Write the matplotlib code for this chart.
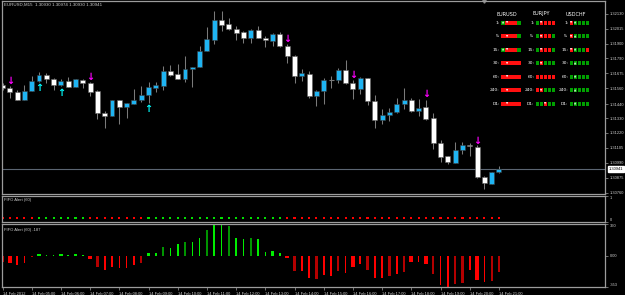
"""
EURUSD M15 chart with FIFO Alert sub-windows and multi-timeframe panel
"""

#---------------------------------------------------------------------------------------------------
# Import Modules
#---------------------------------------------------------------------------------------------------

import matplotlib
matplotlib.use('Agg')
import matplotlib.pyplot as plt
import matplotlib.transforms as mtrans
import numpy as np


#---------------------------------------------------------------------------------------------------
# Input Data
#---------------------------------------------------------------------------------------------------

# 15-minute candles, 14 Feb 2012 04:00 - 21:00
opens = [1.31584, 1.31561, 1.31533, 1.31475, 1.31543, 1.31615, 1.31661, 1.31630, 1.31587, 1.31615,
         1.31571, 1.31628, 1.31602, 1.31538, 1.31375, 1.31352, 1.31472, 1.31418, 1.31444, 1.31472,
         1.31510, 1.31566, 1.31579, 1.31697, 1.31671, 1.31635, 1.31707, 1.31725, 1.31847, 1.31934,
         1.32087, 1.32054, 1.32015, 1.31992, 1.31944, 1.32008, 1.31949, 1.31926, 1.31977, 1.31888,
         1.31809, 1.31656, 1.31674, 1.31505, 1.31538, 1.31623, 1.31623, 1.31704, 1.31605, 1.31559,
         1.31640, 1.31464, 1.31316, 1.31360, 1.31380, 1.31442, 1.31475, 1.31388, 1.31418, 1.31332,
         1.31145, 1.31041, 1.30992, 1.31089, 1.31125, 1.31115, 1.30885, 1.30829, 1.30918]
highs = [1.31605, 1.31579, 1.31551, 1.31587, 1.31656, 1.31686, 1.31679, 1.31638, 1.31633, 1.31645,
         1.31633, 1.31635, 1.31612, 1.31548, 1.31388, 1.31475, 1.31475, 1.31452, 1.31556, 1.31579,
         1.31607, 1.31607, 1.31732, 1.31740, 1.31748, 1.31809, 1.31727, 1.31885, 1.32028, 1.32153,
         1.32153, 1.32099, 1.32038, 1.32000, 1.32015, 1.32041, 1.31964, 1.31985, 1.31990, 1.31898,
         1.31816, 1.31707, 1.31694, 1.31548, 1.31640, 1.31656, 1.31714, 1.31781, 1.31628, 1.31645,
         1.31643, 1.31510, 1.31401, 1.31411, 1.31487, 1.31566, 1.31490, 1.31480, 1.31472, 1.31375,
         1.31168, 1.31046, 1.31153, 1.31151, 1.31140, 1.31128, 1.30893, 1.30924, 1.30964]
lows = [1.31546, 1.31490, 1.31469, 1.31472, 1.31541, 1.31607, 1.31600, 1.31551, 1.31579, 1.31569,
        1.31569, 1.31564, 1.31505, 1.31329, 1.31260, 1.31349, 1.31286, 1.31337, 1.31442, 1.31459,
        1.31452, 1.31531, 1.31551, 1.31656, 1.31633, 1.31610, 1.31571, 1.31722, 1.31844, 1.31903,
        1.32003, 1.32005, 1.31934, 1.31908, 1.31911, 1.31944, 1.31880, 1.31888, 1.31878, 1.31755,
        1.31605, 1.31617, 1.31487, 1.31429, 1.31444, 1.31561, 1.31602, 1.31597, 1.31482, 1.31515,
        1.31431, 1.31258, 1.31286, 1.31314, 1.31375, 1.31406, 1.31380, 1.31352, 1.31319, 1.31094,
        1.31000, 1.30979, 1.30990, 1.31059, 1.31046, 1.30872, 1.30788, 1.30827, 1.30911]
closes = [1.31561, 1.31533, 1.31475, 1.31541, 1.31617, 1.31661, 1.31633, 1.31587, 1.31617, 1.31574,
          1.31630, 1.31602, 1.31533, 1.31372, 1.31352, 1.31472, 1.31418, 1.31449, 1.31472, 1.31513,
          1.31569, 1.31584, 1.31694, 1.31663, 1.31635, 1.31709, 1.31727, 1.31850, 1.31936, 1.32087,
          1.32048, 1.32015, 1.31985, 1.31944, 1.32008, 1.31946, 1.31929, 1.31977, 1.31888, 1.31811,
          1.31658, 1.31679, 1.31505, 1.31538, 1.31628, 1.31623, 1.31704, 1.31602, 1.31559, 1.31638,
          1.31467, 1.31316, 1.31360, 1.31383, 1.31444, 1.31475, 1.31388, 1.31411, 1.31329, 1.31145,
          1.31038, 1.30995, 1.31092, 1.31128, 1.31118, 1.30883, 1.30834, 1.30918, 1.30941]

# Signal arrows (bar index, price)
sell_idx = [1, 12, 39, 48, 58, 65]
sell_price = [1.31620, 1.31648, 1.31939, 1.31666, 1.31518, 1.31158]
buy_idx = [5, 8, 20]
buy_price = [1.31566, 1.31528, 1.31403]

# Price axis labels
price_ticks = [1.32130, 1.32015, 1.31900, 1.31790, 1.31675, 1.31560, 1.31440,
               1.31330, 1.31220, 1.31105, 1.30990, 1.30875, 1.30760]
price_range = [1.30752, 1.32229]

# FIFO Alert (60) dot window: 1 = green, 0 = red
dot_state = [0, 0, 0, 0, 0, 1, 1, 1, 1, 1, 1, 1, 0, 0, 0, 0, 0, 0, 0, 0,
             1, 1, 1, 1, 1, 1, 1, 1, 1, 1, 1, 1, 1, 1, 1, 1, 1, 1, 1, 0,
             0, 0, 0, 0, 0, 0, 0, 0, 0, 0, 0, 0, 0, 0, 0, 0, 0, 0, 0, 0,
             0, 0, 0, 0, 0, 0, 0, 0, 0]
dot_level = 0.15

# FIFO Alert (60) histogram
hist_vals = [-66, -86, -107, -78, -16, 16, 12, 8, 16, 12,
             16, 12, -41, -127, -156, -127, -139, -135, -103, -86,
             29, 37, 98, 90, 131, 160, 156, 205, 291, 360,
             353, 340, 201, 189, 201, 189, 45, 53, 33, -29,
             -176, -176, -250, -258, -217, -225, -176, -189, -127, -98,
             -160, -250, -250, -230, -201, -180, -66, -66, -94, -201,
             -332, -353, -324, -312, -160, -275, -299, -283, -187]
# buffer of each bar: b = bright, d = dark, w = wide
hist_kind = list('dwbbdwbbwb' 'wbwdbbbbbd' 'wbdbbdbbdb' 'bdbbdbbwbw'
                 'dbbdbbdbwb' 'dbbdbdwbwd' 'bbddbwbdd')
hist_range = [-353, 360]

# Time axis
time_labels = ['14 Feb 2012', '14 Feb 05:00', '14 Feb 06:00', '14 Feb 07:00', '14 Feb 08:00',
               '14 Feb 09:00', '14 Feb 10:00', '14 Feb 11:00', '14 Feb 12:00', '14 Feb 13:00',
               '14 Feb 14:00', '14 Feb 15:00', '14 Feb 16:00', '14 Feb 17:00', '14 Feb 18:00',
               '14 Feb 19:00', '14 Feb 20:00', '14 Feb 21:00']

# Multi-timeframe panel: cell colours (G/R) and marks (A = up, V = down, . = none)
pairs = ['EURUSD', 'EURJPY', 'USDCHF']
timeframes = ['1:', '5:', '15:', '30:', '60:', '240:', 'D1:']
cell_colors = {'EURUSD': ['GRRRG', 'RRRRG', 'GRRRG', 'RRRRR', 'RRRRR', 'RRRRR', 'RRRRR'],
               'EURJPY': ['GRRRR', 'GRRRG', 'GRRRG', 'GRGGG', 'RRRRR', 'RRGGG', 'GGRGG'],
               'USDCHF': ['RGGGG', 'RGGGG', 'RGGGR', 'GGGGG', 'GGGGG', 'GGGGG', 'GGGGG']}
cell_marks = {'EURUSD': ['AV...', '.V...', 'AV...', '.V...', '.V...', '.V...', '.V...'],
              'EURJPY': ['.V...', '.V...', '.V...', '.V...', '.....', '.V...', '..V..'],
              'USDCHF': ['VA...', 'VA...', 'VA...', '.A...', '.A...', '.A...', '.A...']}

title_str = 'EURUSD,M15  1.30930 1.30974 1.30930 1.30941'


#---------------------------------------------------------------------------------------------------
# Make Plot
#---------------------------------------------------------------------------------------------------

W, H = 625, 295
BLUE = '#1fb4f2'
WICK = '#7a7a7a'
FRAME = '#9c9c9c'
TXT = '#cfcfcf'
plt.rcParams['font.family'] = ['Liberation Sans', 'DejaVu Sans']

fig = plt.figure(figsize=(W / 100, H / 100), dpi=100, facecolor='black')

def px_axes(x0, y0, x1, y1):
    return fig.add_axes([x0 / W, 1 - y1 / H, (x1 - x0) / W, (y1 - y0) / H])

ax = px_axes(2, 1, 605, 194)
ax1 = px_axes(2, 196, 605, 222)
ax2 = px_axes(2, 224, 605, 287)

n = len(opens)
idx = np.arange(n)
xlim = (-0.07, 82.53)

for a in [ax, ax1, ax2]:
    a.set_facecolor('black')
    a.set_xlim(xlim)
    for s in a.spines.values():
        s.set_color(FRAME)
        s.set_linewidth(0.9)
    a.yaxis.tick_right()
    a.tick_params(axis='y', colors=FRAME, labelcolor=TXT, labelsize=2.9, length=2, width=0.5, pad=1.5)
    a.tick_params(axis='x', bottom=False, labelbottom=False)

# ---- candles
o, h, l, c = (np.array(v) for v in (opens, highs, lows, closes))
ax.vlines(idx, l, h, color=WICK, lw=0.75, zorder=1)
up = c > o
dn = c < o
flat = c == o
ax.bar(idx[up], (c - o)[up], bottom=o[up], width=0.68, color=BLUE, edgecolor='#3c3c3c',
       lw=0.4, zorder=2)
ax.bar(idx[dn], (o - c)[dn], bottom=c[dn], width=0.68, color='white', edgecolor='#5a5a5a',
       lw=0.4, zorder=2)
ax.hlines(o[flat], idx[flat] - 0.34, idx[flat] + 0.34, color=WICK, lw=0.8, zorder=2)

for i, p in zip(sell_idx, sell_price):
    ax.text(i, p, '\u2193', color='#ff00ff', ha='center', va='center', fontsize=7,
            fontweight='bold', family='DejaVu Sans', zorder=3)
for i, p in zip(buy_idx, buy_price):
    ax.text(i, p, '\u2191', color='#00ffff', ha='center', va='center', fontsize=7,
            fontweight='bold', family='DejaVu Sans', zorder=3)

ax.axhline(closes[-1], color='#5b6572', lw=0.8, zorder=0)
ax.set_ylim(price_range)
ax.set_yticks(price_ticks)
ax.set_yticklabels(['%.5f' % p for p in price_ticks])
ax.text(0.004, 0.99, title_str, transform=ax.transAxes, color=TXT, fontsize=3.2,
        ha='left', va='top')
ax.plot([0.799], [1.0], marker='v', ms=2.5, color='#8a8a8a', transform=ax.transAxes,
        clip_on=False)

# current price box
bt = mtrans.blended_transform_factory(ax.transAxes, ax.transData)
ax.text(1.006, closes[-1], '%.5f' % closes[-1], transform=bt, color='black', fontsize=2.9,
        ha='left', va='center', bbox=dict(boxstyle='square,pad=0.25', fc='white', ec='white'),
        zorder=5)

# ---- multi-timeframe panel (pixel layout)
col_x = [501, 535.5, 569.5]
row_y = [22.7, 36.2, 49.8, 63.3, 76.8, 90.3, 103.8]
for pair, cx in zip(pairs, col_x):
    fig.text((cx + 6) / W, 1 - 14 / H, pair, color='white', fontsize=3.6, ha='center',
             va='center', family='DejaVu Sans')
    for tf, ry, cols, marks in zip(timeframes, row_y, cell_colors[pair], cell_marks[pair]):
        fig.text((cx - 1.2) / W, 1 - ry / H, tf, color='white', fontsize=3.2, ha='right',
                 va='center', family='DejaVu Sans')
        for k, (cc, mk) in enumerate(zip(cols, marks)):
            fc = '#00a000' if cc == 'G' else '#ff1010'
            fig.add_artist(plt.Rectangle(((cx + 4 * k) / W, 1 - (ry + 2) / H), 3.5 / W, 4 / H,
                                         transform=fig.transFigure, fc=fc, ec='none'))
            if mk != '.':
                fig.text((cx + 4 * k + 1.75) / W, 1 - ry / H, '\u25b2' if mk == 'A' else '\u25bc',
                         color='white', fontsize=2.0, ha='center', va='center',
                         family='DejaVu Sans')

# ---- dot window
dot_cols = ['#00e000' if s else '#ff0000' for s in dot_state]
ax1.scatter(idx, [dot_level] * n, c=dot_cols, marker='s', s=2.4, linewidths=0)
ax1.set_ylim(0, 1)
ax1.set_yticks([0, 1])
ax1.set_yticklabels(['0', '1'])
ax1.get_yticklabels()[0].set_va('bottom')
ax1.get_yticklabels()[1].set_va('top')
ax1.text(0.004, 0.92, 'FIFO Alert (60)', transform=ax1.transAxes, color=TXT, fontsize=3.0,
         ha='left', va='top')

# ---- histogram window
hv = np.array(hist_vals)
for kind, wd in [('b', 0.22), ('d', 0.3), ('w', 0.5)]:
    m = np.array([k == kind for k in hist_kind])
    if kind == 'd':
        cols = np.where(hv[m] > 0, '#009400', '#b40000')
    else:
        cols = np.where(hv[m] > 0, '#00ee00', '#ff0000')
    ax2.bar(idx[m], hv[m], width=wd, color=cols, lw=0)
ax2.set_ylim(hist_range)
ax2.set_yticks([hist_range[0], 0, hist_range[1]])
ax2.set_yticklabels(['%d' % hist_range[0], '0.00', '%d' % hist_range[1]])
ax2.get_yticklabels()[0].set_va('bottom')
ax2.get_yticklabels()[2].set_va('top')
ax2.text(0.004, 0.94, 'FIFO Alert (60) %d' % hist_vals[-1], transform=ax2.transAxes, color=TXT,
         fontsize=3.0, ha='left', va='top')

ax2.tick_params(axis='x', bottom=True, labelbottom=True, colors=FRAME, labelcolor=TXT,
                labelsize=2.9, length=2.5, width=0.5, pad=0.8)
ax2.set_xticks(idx[::4])
ax2.set_xticklabels(time_labels, ha='left')

plt.savefig('out.png', dpi=100, facecolor='black')
plt.close()
